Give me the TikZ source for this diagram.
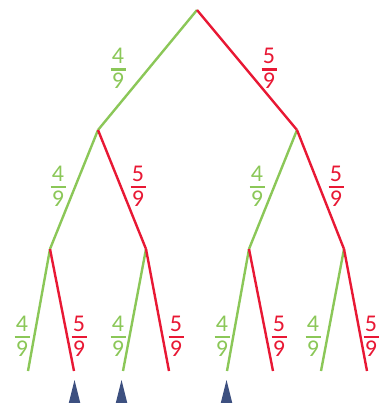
\documentclass[tikz,border=0pt]{standalone}
\usepackage{fontspec}
\setmainfont{Carlito}
\definecolor{gr}{RGB}{139,199,88}
\definecolor{rd}{RGB}{232,24,52}
\definecolor{mk}{RGB}{61,80,128}
\tikzset{
  edge/.style={line width=2.4pt},
  gedge/.style={edge,draw=gr},
  redge/.style={edge,draw=rd},
  digit/.style={inner sep=0pt,anchor=base,font=\fontsize{24}{24}\selectfont},
  marker/.style={fill=mk}
}
% \probfrac{name}{x}{y of bar}{num}{den}{colour}
\newcommand\probfrac[6]{%
  \node[digit,text=#6] (#1n) at (#2,#3-5.5) {#4};
  \node[digit,text=#6] (#1d) at (#2,#3+19.5) {#5};
  \draw[#6,line width=2.3pt] (#2-7.5,#3) -- (#2+7.5,#3);
}
\begin{document}
\begin{tikzpicture}[x=1pt,y=-1pt]
\useasboundingbox (0,0) rectangle (382,403);
% tree points
\coordinate (r) at (197,10);
\coordinate (a) at (98,130);
\coordinate (b) at (297,130);
\coordinate (aa) at (50,249);
\coordinate (ab) at (146,249);
\coordinate (ba) at (249,249);
\coordinate (bb) at (344,249);
\coordinate (aaa) at (28,371);
\coordinate (aab) at (74,371);
\coordinate (aba) at (123,371);
\coordinate (abb) at (169,371);
\coordinate (baa) at (227,371);
\coordinate (bab) at (273,371);
\coordinate (bba) at (321,371);
\coordinate (bbb) at (367,371);
% edges
\draw[gedge] (r) -- (a);
\draw[redge] (r) -- (b);
\draw[gedge] (a) -- (aa);
\draw[redge] (a) -- (ab);
\draw[gedge] (b) -- (ba);
\draw[redge] (b) -- (bb);
\draw[gedge] (aa) -- (aaa);
\draw[redge] (aa) -- (aab);
\draw[gedge] (ab) -- (aba);
\draw[redge] (ab) -- (abb);
\draw[gedge] (ba) -- (baa);
\draw[redge] (ba) -- (bab);
\draw[gedge] (bb) -- (bba);
\draw[redge] (bb) -- (bbb);
% labels
\probfrac{l1}{118}{69.5}{4}{9}{gr}
\probfrac{l2}{269}{69.5}{5}{9}{rd}
\probfrac{l3}{58}{187}{4}{9}{gr}
\probfrac{l4}{138}{187}{5}{9}{rd}
\probfrac{l5}{257}{187}{4}{9}{gr}
\probfrac{l6}{336}{187}{5}{9}{rd}
\probfrac{l7}{22}{337}{4}{9}{gr}
\probfrac{l8}{79}{337}{5}{9}{rd}
\probfrac{l9}{118}{337}{4}{9}{gr}
\probfrac{l10}{176}{337}{5}{9}{rd}
\probfrac{l11}{222}{337}{4}{9}{gr}
\probfrac{l12}{279}{337}{5}{9}{rd}
\probfrac{l13}{313}{337}{4}{9}{gr}
\probfrac{l14}{371}{337}{5}{9}{rd}
% markers
\coordinate (m1) at (74.5,380);
\coordinate (m2) at (121.5,380);
\coordinate (m3) at (226.5,380);
\foreach \m in {m1,m2,m3}
  \fill[marker] (\m) -- ++(-6,24) -- ++(12,0) -- cycle;
\end{tikzpicture}
\end{document}
